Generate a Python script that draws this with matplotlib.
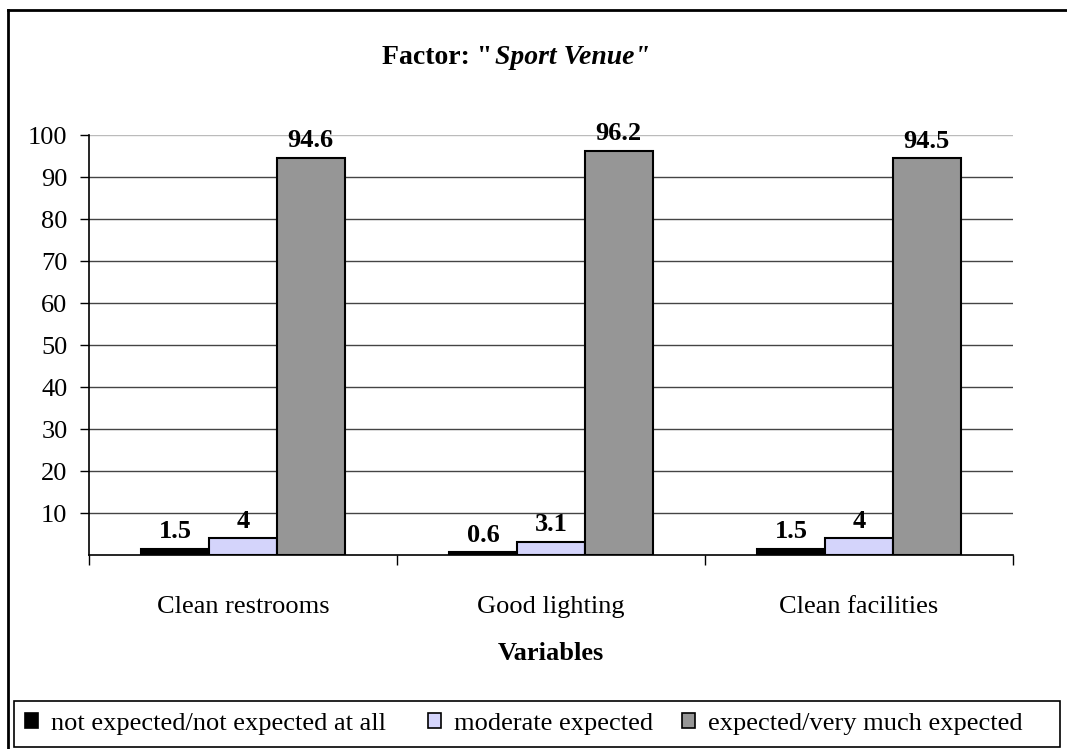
import matplotlib
matplotlib.use("Agg")
import matplotlib.pyplot as plt
from matplotlib.lines import Line2D
from matplotlib.patches import Patch, Rectangle
import numpy as np

categories = ["Clean restrooms", "Good lighting", "Clean facilities"]
series_names = ["not expected/not expected at all", "moderate expected", "expected/very much expected"]
not_expected = [1.5, 0.6, 1.5]
moderate = [4, 3.1, 4]
expected = [94.6, 96.2, 94.5]
value_labels = [["1.5", "0.6", "1.5"], ["4", "3.1", "4"], ["94.6", "96.2", "94.5"]]
y_ticks = [10, 20, 30, 40, 50, 60, 70, 80, 90, 100]

colors = ["#000000", "#D4D4FB", "#969696"]

plt.rcParams['font.family'] = ['Liberation Serif', 'DejaVu Serif']
FS = 19

W, H = 1067, 749
fig = plt.figure(figsize=(W / 100, H / 100), dpi=100)
ax = fig.add_axes([89 / W, 1 - 555 / H, (1013 - 89) / W, (555 - 135) / H])

x = np.arange(len(categories))
width = 0.22
series = [not_expected, moderate, expected]
for i, (vals, col) in enumerate(zip(series, colors)):
    pos = x + (i - 1) * width
    ax.bar(pos, vals, width, color=col, edgecolor="black", linewidth=1.5, zorder=3)
    for p, v, lab in zip(pos, vals, value_labels[i]):
        ax.annotate(lab, (p, v), xytext=(0, 4), textcoords="offset points",
                    ha="center", va="bottom", fontsize=FS, fontweight="bold", zorder=4)

ax.set_xlim(-0.5, 2.5)
ax.set_ylim(0, 100)
ax.set_yticks(y_ticks)
ax.set_yticklabels([str(t) for t in y_ticks], fontsize=FS)
for t in y_ticks:
    ax.axhline(t, color="#bbbbbb" if t == 100 else "#444444", linewidth=1.0, zorder=1)

ax.set_xticks([-0.5, 0.5, 1.5, 2.5])
ax.set_xticklabels([])
ax.tick_params(axis="x", length=7, width=1, direction="out")
ax.tick_params(axis="y", length=6.5, width=1, direction="out", pad=9)
for i, c in enumerate(categories):
    ax.text(i, (555 - 613) / 4.2, c, ha="center", va="baseline", fontsize=FS, clip_on=False)

for s in ["top", "right"]:
    ax.spines[s].set_visible(False)
ax.spines["left"].set_linewidth(1.2)
ax.spines["bottom"].set_linewidth(1.2)

# title with bold + bold italic parts
ty = 1 - 57 / H
TFS = 20
t1 = fig.text(0, ty, 'Factor: "', fontsize=TFS, fontweight="bold", ha="left", va="center")
t2 = fig.text(0, ty, 'Sport Venue"', fontsize=TFS, fontweight="bold", style="italic", ha="left", va="center")
fig.canvas.draw()
w1 = t1.get_window_extent().width
w2 = t2.get_window_extent().width
x0 = 516 - (w1 + w2 + 3) / 2
t1.set_x(x0 / W)
t2.set_x((x0 + w1 + 3) / W)

fig.text(551 / W, 1 - 660 / H, "Variables", fontsize=FS, fontweight="bold", ha="center", va="baseline")

# outer border (partially cropped)
fig.add_artist(Line2D([8 / W, 8 / W], [0, 1 - 10 / H], color="black", linewidth=2, transform=fig.transFigure))
fig.add_artist(Line2D([8 / W, 1], [1 - 10 / H, 1 - 10 / H], color="black", linewidth=2, transform=fig.transFigure))

# legend box
fig.add_artist(Rectangle((14 / W, 1 - 747 / H), (1060 - 14) / W, (747 - 701) / H,
                         transform=fig.transFigure, facecolor="white", edgecolor="black",
                         linewidth=1.2, zorder=5))
leg_x = [25, 428, 682]
for name, col, lx in zip(series_names, colors, leg_x):
    h = Patch(facecolor=col, edgecolor="black", linewidth=1.2)
    lg = fig.legend([h], [name], loc="center left", bbox_to_anchor=(lx / W, 1 - 724 / H),
                    frameon=False, fontsize=FS, handlelength=0.5, handleheight=0.5,
                    handletextpad=0.5, borderpad=0, borderaxespad=0)
    lg.set_zorder(6)

fig.savefig("out.png", dpi=100)
